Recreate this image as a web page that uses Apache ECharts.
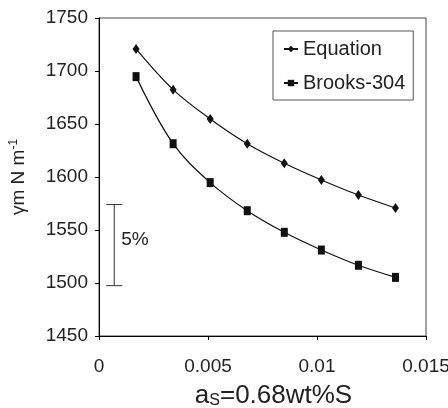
<!DOCTYPE html>
<html>
<head>
<meta charset="utf-8">
<script src="https://cdn.jsdelivr.net/npm/echarts@6/dist/echarts.min.js"></script>
<style>html,body{margin:0;padding:0;background:#fff}#c{width:448px;height:408px}</style>
</head>
<body>
<div id="c"></div>
<script>
var xValues = [0.0017, 0.0034, 0.0051, 0.0068, 0.0085, 0.0102, 0.0119, 0.0136];
var equation = [1720.8, 1682.4, 1654.7, 1631.4, 1612.9, 1597.2, 1583.0, 1570.8];
var brooks = [1694.7, 1631.4, 1594.7, 1568.2, 1547.8, 1531.1, 1516.7, 1505.3];
var scaleBar = [[0.0007, 1497.5, 1574]];
var scaleLabel = '5%';
var seriesNames = ['Equation', 'Brooks-304'];

function pairs(ys) { return xValues.map(function (x, i) { return [x, ys[i]]; }); }

var FONT = 'Liberation Sans, Arial, sans-serif';
var chart = echarts.init(document.getElementById('c'), null, { renderer: 'canvas' });
chart.setOption({
  animation: false,
  backgroundColor: '#fff',
  grid: { left: 99, right: 22, top: 18, bottom: 72, show: true, borderColor: '#444', borderWidth: 1, containLabel: false, outerBoundsMode: 'none' },
  xAxis: {
    type: 'value', min: 0, max: 0.015, interval: 0.005,
    axisLine: { lineStyle: { color: '#000', width: 1 } },
    axisTick: { show: true, length: 4, inside: false, lineStyle: { color: '#000' } },
    splitLine: { show: false },
    axisLabel: { color: '#222', fontSize: 19, fontFamily: FONT, margin: 21, formatter: function (v) { return String(+v.toFixed(3)); } },
    name: '{n|a}{s|S}{n|=0.68wt%S}', nameLocation: 'middle', nameGap: 47,
    nameTextStyle: { padding: [0, 0, 0, 22], rich: {
      n: { fontSize: 26, fontFamily: FONT, color: '#222' },
      s: { fontSize: 16, fontFamily: FONT, color: '#222', verticalAlign: 'bottom', padding: [8, 0, 0, 0] }
    } }
  },
  yAxis: {
    type: 'value', min: 1450, max: 1750, interval: 50,
    axisLine: { show: true, lineStyle: { color: '#000', width: 1 } },
    axisTick: { show: true, length: 4, inside: false, lineStyle: { color: '#000' } },
    splitLine: { show: false },
    axisLabel: { color: '#222', fontSize: 19, fontFamily: FONT, margin: 11, formatter: function (v) { return String(v); } },
    name: '{n|γm N m}{s|-1}', nameLocation: 'middle', nameGap: 70, nameRotate: 90,
    nameTextStyle: { rich: {
      n: { fontSize: 19, fontFamily: FONT, color: '#222' },
      s: { fontSize: 12, fontFamily: FONT, color: '#222', padding: [0, 0, 9, 0] }
    } }
  },
  legend: {
    orient: 'vertical', left: 273, top: 31,
    data: seriesNames,
    borderColor: '#555', borderWidth: 1, padding: [8, 8, 7, 10], itemGap: 14,
    itemWidth: 14, itemHeight: 8,
    textStyle: { fontSize: 20, fontFamily: FONT, color: '#222' }
  },
  series: [
    {
      name: seriesNames[0], type: 'line', data: pairs(equation), smooth: 0.35,
      symbol: 'diamond', symbolSize: [7, 10], showAllSymbol: true,
      lineStyle: { color: '#111', width: 1.2 }, itemStyle: { color: '#111' }
    },
    {
      name: seriesNames[1], type: 'line', data: pairs(brooks), smooth: 0.35,
      symbol: 'rect', symbolSize: [7, 9], showAllSymbol: true,
      lineStyle: { color: '#111', width: 1.2 }, itemStyle: { color: '#111' }
    },
    {
      type: 'custom', data: scaleBar, silent: true,
      renderItem: function (params, api) {
        var x = api.value(0), lo = api.value(1), hi = api.value(2);
        var p1 = api.coord([x, hi]), p2 = api.coord([x, lo]);
        var mid = api.coord([x, (lo + hi) / 2]);
        var cap = 8;
        var st = { stroke: '#333', lineWidth: 1 };
        return { type: 'group', children: [
          { type: 'line', shape: { x1: p1[0], y1: p1[1], x2: p2[0], y2: p2[1] }, style: st },
          { type: 'line', shape: { x1: p1[0] - cap, y1: p1[1], x2: p1[0] + cap, y2: p1[1] }, style: st },
          { type: 'line', shape: { x1: p2[0] - cap, y1: p2[1], x2: p2[0] + cap, y2: p2[1] }, style: st },
          { type: 'text', style: { text: scaleLabel, x: p1[0] + 7, y: mid[1] - 5, fill: '#222', fontSize: 19, fontFamily: FONT, verticalAlign: 'middle', align: 'left' } }
        ] };
      }
    }
  ]
});
</script>
</body>
</html>
